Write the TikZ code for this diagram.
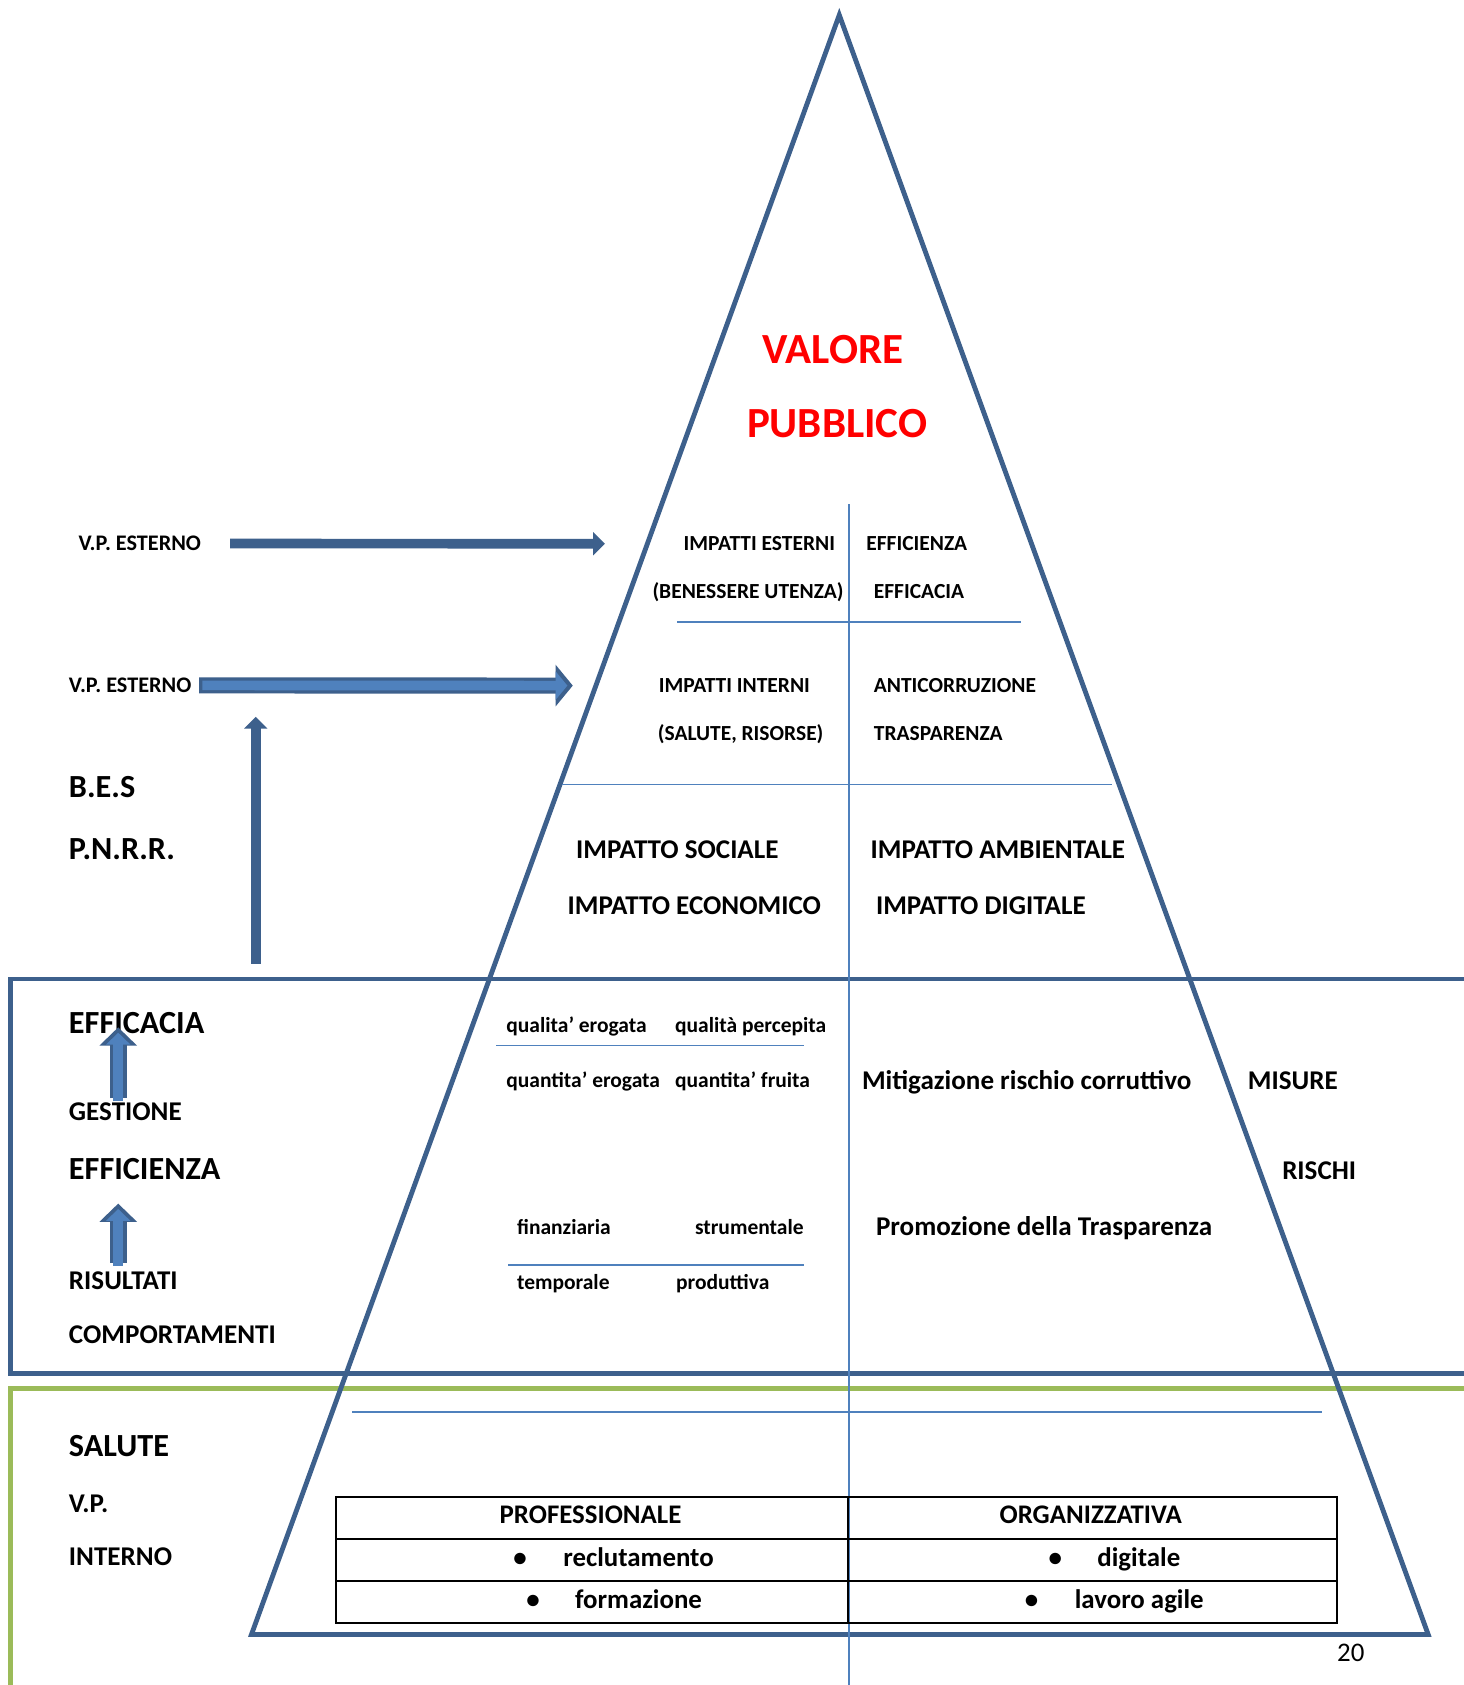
\documentclass[tikz,border=0pt]{standalone}
\usepackage{fontspec}
\setmainfont{Carlito}
\usetikzlibrary{arrows.meta}

\definecolor{pyrblue}{RGB}{61,96,140}
\definecolor{linblue}{RGB}{79,129,189}
\definecolor{boxgreen}{RGB}{155,187,89}

\newcommand{\ftS}{\fontsize{20}{24}\selectfont\bfseries}
\newcommand{\ftV}{\fontsize{20.7}{25}\selectfont\bfseries}
\newcommand{\ftM}{\fontsize{25.2}{30}\selectfont\bfseries}
\newcommand{\ftL}{\fontsize{30}{36}\selectfont\bfseries}

\tikzset{
	txts/.style={inner sep=0pt, anchor=base west, font=\ftS},
	txtv/.style={inner sep=0pt, anchor=base west, font=\ftV},
	txtm/.style={inner sep=0pt, anchor=base west, font=\ftM},
	txtl/.style={inner sep=0pt, anchor=base west, font=\ftL},
	pyr/.style={draw=pyrblue, line width=4.5pt},
	divline/.style={draw=linblue, line width=1.5pt},
	solidarrow/.style={draw=pyrblue, line width=9pt, -{Triangle[length=11pt,width=21pt]}},
	outerarrow/.style={draw=pyrblue, line width=15pt},
	innerarrow/.style={draw=linblue, line width=9pt},
	cell/.style={inner sep=0pt, anchor=base, font=\fontsize{25}{30}\selectfont\bfseries}
}

\begin{document}
\begin{tikzpicture}[x=1pt, y=-1pt]
	\useasboundingbox[fill=white] (0,0) rectangle (1362,1568);

	% frames
	\draw[draw=pyrblue, line width=4.5pt] (10,911) rectangle (1372,1278);
	\draw[draw=boxgreen, line width=4.5pt] (10,1292) rectangle (1372,1580);

	% pyramid
	\draw[pyr] (781,14) -- (234,1521) -- (1329,1521) -- cycle;

	% dividers
	\draw[divline] (790,469) -- (790,1568);
	\draw[divline] (630,579) -- (950,579);
	\draw[divline] (523,730) -- (1035,730);
	\draw[divline] (462,973) -- (748,973);
	\draw[divline] (473,1177) -- (748,1177);
	\draw[divline] (328,1314) -- (1230,1314);

	% title
	\node[inner sep=0pt, anchor=base, text=red, font=\fontsize{40}{46}\selectfont\bfseries] (valore) at (775,338) {VALORE};
	\node[inner sep=0pt, anchor=base, text=red, font=\fontsize{40}{46}\selectfont\bfseries] (pubblico) at (779,407) {PUBBLICO};

	% left labels
	\node[txtv] (vpe1) at (73,512.5) {V.P. ESTERNO};
	\node[txtv] (vpe2) at (64,644.5) {V.P. ESTERNO};
	\node[txtl] (bes) at (64,742.5) {B.E.S};
	\node[txtl] (pnrr) at (64,799.5) {P.N.R.R.};
	\node[txtl] (effic) at (64,961.5) {EFFICACIA};
	\node[txtm] (gest) at (64,1043) {GESTIONE};
	\node[txtl] (effie) at (64,1097.5) {EFFICIENZA};
	\node[txtm] (risul) at (64,1200) {RISULTATI};
	\node[txtm] (compo) at (64,1250) {COMPORTAMENTI};
	\node[txtl] (salute) at (64,1355.5) {SALUTE};
	\node[txtm] (vp) at (64,1407) {V.P.};
	\node[txtm] (interno) at (64,1457) {INTERNO};

	% upper pyramid
	\node[txts] (impest) at (636,512.5) {IMPATTI ESTERNI};
	\node[txts] (benes) at (607,556.5) {(BENESSERE UTENZA)};
	\node[txts] (effz) at (806,512.5) {EFFICIENZA};
	\node[txts] (effc) at (813,556.5) {EFFICACIA};
	\node[txts] (impint) at (613,644.5) {IMPATTI INTERNI};
	\node[txts] (salris) at (612,689.5) {(SALUTE, RISORSE)};
	\node[txts] (anticor) at (813,644.5) {ANTICORRUZIONE};
	\node[txts] (trasp) at (813,689.5) {TRASPARENZA};
	\node[txtm] (impsoc) at (536,799) {IMPATTO SOCIALE};
	\node[txtm] (impeco) at (528,851) {IMPATTO ECONOMICO};
	\node[txtm] (impamb) at (810,799) {IMPATTO AMBIENTALE};
	\node[txtm] (impdig) at (815,851) {IMPATTO DIGITALE};

	% performance band
	\node[txts] (qualero) at (471,961) {qualita’ erogata};
	\node[txts] (qualper) at (628,961) {qualità percepita};
	\node[txts] (quanero) at (471,1012) {quantita’ erogata};
	\node[txts] (quanfru) at (628,1012) {quantita’ fruita};
	\node[txts] (finanz) at (481,1149) {finanziaria};
	\node[txts, anchor=base east] (strum) at (748,1149) {strumentale};
	\node[txts] (tempor) at (481,1200) {temporale};
	\node[txts] (produt) at (629,1200) {produttiva};
	\node[txtm] (mitig) at (802,1014) {Mitigazione rischio corruttivo};
	\node[txtm] (promoz) at (815,1150) {Promozione della Trasparenza};
	\node[txtm] (misure) at (1161,1014) {MISURE};
	\node[txtm] (rischi) at (1193,1098) {RISCHI};

	% table
	\draw[line width=2pt] (313,1393) rectangle (1244,1510);
	\draw[line width=2pt] (313,1432) -- (1244,1432);
	\draw[line width=2pt] (313,1471) -- (1244,1471);
	\draw[line width=2pt] (789,1393) -- (789,1510);
	\node[cell] (prof) at (549.5,1418) {PROFESSIONALE};
	\node[cell] (organ) at (1015,1418) {ORGANIZZATIVA};
	\node[cell] (b1) at (484,1458) {•};
	\node[cell, anchor=base west] (reclu) at (524,1458) {reclutamento};
	\node[cell] (b2) at (496,1497) {•};
	\node[cell, anchor=base west] (forma) at (535,1497) {formazione};
	\node[cell] (b3) at (982,1458) {•};
	\node[cell, anchor=base west] (digit) at (1021,1458) {digitale};
	\node[cell] (b4) at (960,1497) {•};
	\node[cell, anchor=base west] (lavoro) at (1000,1497) {lavoro agile};

	\node[inner sep=0pt, anchor=base, font=\fontsize{25}{30}\selectfont] (pagenum) at (1257,1546) {20};

	% arrows
	\coordinate (tip1) at (563,506);
	\coordinate (tip2) at (533,638);
	\coordinate (tip2i) at (528,638);
	\coordinate (base3) at (238,897);
	\coordinate (tip3) at (238,667);
	\coordinate (base4) at (110,1022);
	\coordinate (tip4) at (110,956);
	\coordinate (tip4i) at (110,961);
	\coordinate (base5) at (110,1175);
	\coordinate (tip5) at (110,1120);
	\coordinate (tip5i) at (110,1125);
	\draw[solidarrow] ([xshift=27]vpe1.east) -- (tip1);
	\draw[solidarrow] (base3) -- (tip3);
	\draw[outerarrow, -{Triangle[length=16pt,width=38pt]}] ([xshift=7]vpe2.east) -- (tip2);
	\draw[innerarrow, -{Triangle[length=11pt,width=26pt]}] ([xshift=10]vpe2.east) -- (tip2i);
	\draw[outerarrow, line width=16pt, -{Triangle[length=17pt,width=34pt]}] (base4) -- (tip4);
	\draw[innerarrow, line width=9pt, -{Triangle[length=11pt,width=22pt]}] ([yshift=-3]base4) -- (tip4i);
	\draw[outerarrow, line width=16pt, -{Triangle[length=17pt,width=34pt]}] (base5) -- (tip5);
	\draw[innerarrow, line width=9pt, -{Triangle[length=11pt,width=22pt]}] ([yshift=-3]base5) -- (tip5i);
\end{tikzpicture}
\end{document}
